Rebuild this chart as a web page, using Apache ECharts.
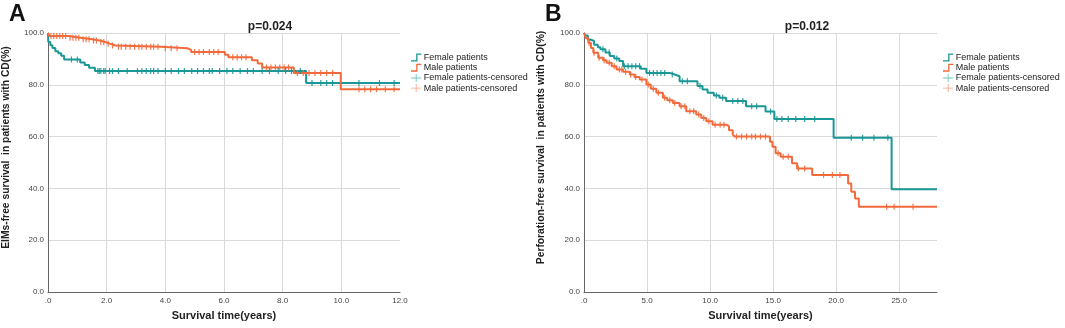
<!DOCTYPE html>
<html><head><meta charset="utf-8">
<script src="https://cdn.jsdelivr.net/npm/echarts@6/dist/echarts.min.js"></script>
<style>html,body{margin:0;padding:0;background:#fff}#c{width:1065px;height:328px}</style>
</head><body><div id="c"></div>
<script>
// ---------- DATA ----------
const seriesNames = ["Female patients", "Male patients", "Female patients-censored", "Male patients-censored"];
const pValues = ["p=0.024", "p=0.012"];
const panelLetters = ["A", "B"];
const yAxisTitles = ["EIMs-free survival  in patients with CD(%)", "Perforation-free survival  in patients with CD(%)"];
const xAxisTitle = "Survival time(years)";
const yTicks = [0, 20, 40, 60, 80, 100];
const xTicksA = [0, 2, 4, 6, 8, 10, 12];
const xTicksB = [0, 5, 10, 15, 20, 25];

// Panel A: EIMs-free survival, [time, survival%] after each step
const femaleA = [[0,100],[0.01,96.5],[0.08,95.3],[0.15,94.2],[0.25,93],[0.35,92.2],[0.45,91.2],[0.55,89.8],[1.1,88.6],[1.25,87.6],[1.4,86.6],[1.6,85.3],[8.8,80.7],[12,80.7]];
const maleA = [[0,100],[0.05,98.8],[0.7,98.2],[1.1,97.6],[1.5,97.1],[1.75,96.5],[1.95,95.9],[2.1,95.2],[2.3,94.7],[3.85,94.1],[4.75,93.5],[4.88,92.7],[6.03,91.6],[6.15,90.6],[6.95,89.5],[7.15,88.2],[7.3,86.7],[8.38,84.6],[9.98,78.3],[12,78.3]];
const femaleCensA = [0.8,1.0,1.7,1.75,1.8,1.9,1.95,2.1,2.2,2.4,2.7,3.05,3.2,3.35,3.5,3.6,3.75,4.0,4.2,4.45,4.65,4.9,5.1,5.3,5.5,5.6,5.85,6.1,6.3,6.55,6.8,7.0,7.3,7.55,7.85,8.1,8.3,8.6,9.0,9.3,9.5,9.7,10.6,11.3,11.8];
const maleCensA = [0.1,0.2,0.3,0.4,0.5,0.6,0.75,0.85,0.95,1.05,1.2,1.3,1.4,1.55,1.65,1.8,1.9,2.05,2.2,2.4,2.5,2.65,2.8,2.95,3.1,3.2,3.35,3.5,3.6,3.75,4.0,4.2,4.4,5.0,5.15,5.3,5.5,5.65,5.8,6.3,6.45,6.6,6.75,7.45,7.6,7.75,7.9,8.05,8.2,8.5,8.7,8.9,9.1,9.3,9.5,9.7,10.6,10.8,11.0,11.2,11.5,11.8];

// Panel B: Perforation-free survival
const femaleB = [[0,100],[0.1,99],[0.3,97.5],[0.5,96.9],[0.8,95.5],[1.1,94.5],[1.3,93.7],[1.7,92.5],[2.05,91.1],[2.4,90.2],[2.8,89.2],[3.1,87.2],[4.5,86.2],[4.95,84.6],[6.8,84.0],[7.2,83.3],[7.58,81.4],[9.0,79.5],[9.4,78.2],[9.8,76.9],[10.3,75.9],[10.74,75.0],[11.27,73.7],[12.85,71.7],[14.4,69.7],[15.1,66.8],[19.8,59.6],[24.4,39.7],[28,39.7]];
const maleB = [[0,100],[0.15,98],[0.34,96.2],[0.55,94.2],[0.74,92.4],[1.13,90.4],[1.5,89.5],[1.79,88.5],[2.2,87.2],[2.58,85.9],[3.1,85],[3.63,84],[4.0,83],[4.42,82.0],[4.95,80.1],[5.3,78.5],[5.74,76.9],[6.26,75],[6.6,74],[7.05,73],[7.58,71.7],[8.11,69.8],[8.9,68.5],[9.3,67.2],[9.7,65.9],[10.2,64.6],[11.27,64],[11.5,62.5],[11.8,60.8],[11.95,60],[14.75,58],[14.95,56.1],[15.2,53.6],[15.6,52.2],[16.5,49.7],[16.9,47.7],[18.1,45.2],[20.95,41.9],[21.2,38.7],[21.5,36.1],[21.8,32.9],[28,32.9]];
const femaleCensB = [1.5,2.0,2.6,3.2,3.5,3.8,4.1,4.4,5.2,5.5,5.8,6.1,6.4,7.0,7.8,8.2,9.2,10.5,11.0,11.8,12.2,12.6,13.3,13.7,14.8,15.3,15.7,16.2,16.8,17.5,18.3,21.2,22.1,23.0,24.1];
const maleCensB = [0.4,0.8,1.2,1.6,2.0,2.4,2.8,3.0,3.3,3.7,4.1,4.6,5.1,5.5,5.9,6.4,6.8,7.2,7.7,8.0,8.4,8.7,9.1,9.5,9.9,10.4,10.8,11.1,12.1,12.5,12.9,13.3,13.6,14.0,14.4,15.4,15.8,16.2,17.0,17.5,19.0,19.7,20.3,24.0,24.6,26.1];

// ---------- CHART ----------
const TEAL = '#1a9797', ORANGE = '#f26a3b', TEAL_L = '#5cbcbc', ORANGE_L = '#f79a78';
function survAt(steps, t){ let s = steps[0][1]; for (const p of steps){ if (p[0] <= t) s = p[1]; else break; } return s; }
const cens = (steps, times) => times.map(t => [t, survAt(steps, t)]);
const fmtX = v => v === 0 ? '.0' : v.toFixed(1);
const fmtY = v => v.toFixed(1);
const FONT = 'Liberation Sans';
const stepIcon = 'path://M0,9 L7,9 L7,0 L14,0 L14,1.8 L8.8,1.8 L8.8,10.8 L0,10.8 Z';
const plusIcon = 'path://M0,5 L6.4,5 L6.4,0 L7.6,0 L7.6,5 L14,5 L14,6.2 L7.6,6.2 L7.6,11 L6.4,11 L6.4,6.2 L0,6.2 Z';

const grids = [{left:47, top:33, width:353, height:259}, {left:584, top:33, width:353, height:259}];
function xAxis(i, max, interval){
  return {type:'value', gridIndex:i, min:0, max:max, interval:interval,
    axisLine:{show:true, lineStyle:{color:'#666', width:1}}, axisTick:{show:false},
    axisLabel:{formatter:fmtX, fontSize:8, color:'#444', fontFamily:FONT, margin:5, showMaxLabel: i===0},
    splitLine:{show:true, showMaxLine:false, lineStyle:{color:'#d9d9d9', width:1}},
    name:xAxisTitle, nameLocation:'middle', nameGap:18,
    nameTextStyle:{fontSize:11, fontWeight:'bold', color:'#222', fontFamily:FONT}};
}
function yAxis(i){
  return {type:'value', gridIndex:i, min:0, max:100, interval:20,
    axisLine:{show:true, lineStyle:{color:'#666', width:1}}, axisTick:{show:false},
    axisLabel:{formatter:fmtY, fontSize:8, color:'#444', fontFamily:FONT, margin:4},
    splitLine:{show:true, showMinLine:false, lineStyle:{color:'#d9d9d9', width:1}},
    name:yAxisTitles[i], nameLocation:'middle', nameGap: i===0 ? 37 : 38,
    nameTextStyle:{fontSize:10.3, fontWeight:'bold', color:'#222', fontFamily:FONT, padding:[0,0,0,30]}};
}
function lineS(name, data, color, i){
  return {name, type:'line', step:'end', xAxisIndex:i, yAxisIndex:i, data, showSymbol:false,
    lineStyle:{color, width:2}, itemStyle:{color}, z:2, silent:true};
}
function censS(name, data, color, i){
  return {name, type:'scatter', xAxisIndex:i, yAxisIndex:i, data, symbol:'rect', symbolSize:[1.2,6],
    itemStyle:{color, opacity:0.9}, z:3, silent:true};
}
function legend(left){
  return {orient:'vertical', left, top:48, itemWidth:13, itemHeight:8, itemGap:1.2, selectedMode:false,
    textStyle:{fontSize:9, color:'#222', fontFamily:FONT, padding:[0,0,0,-4]},
    data:[{name:seriesNames[0], icon:stepIcon, itemStyle:{color:TEAL}},
          {name:seriesNames[1], icon:stepIcon, itemStyle:{color:ORANGE}},
          {name:seriesNames[2], icon:plusIcon, itemStyle:{color:TEAL_L}},
          {name:seriesNames[3], icon:plusIcon, itemStyle:{color:ORANGE_L}}]};
}
const chart = echarts.init(document.getElementById('c'), null, {renderer:'canvas'});
chart.setOption({
  animation:false, backgroundColor:'#fff',
  grid: grids,
  xAxis:[xAxis(0, 12, 2), xAxis(1, 28, 5)],
  yAxis:[yAxis(0), yAxis(1)],
  legend:[legend(406), legend(938)],
  title:[
    {text:pValues[0], left:265, top:16, textAlign:'center', textStyle:{fontSize:12, fontWeight:'bold', color:'#222', fontFamily:FONT}},
    {text:pValues[1], left:802, top:16, textAlign:'center', textStyle:{fontSize:12, fontWeight:'bold', color:'#222', fontFamily:FONT}},
    {text:panelLetters[0], left:4, top:-2, textStyle:{fontSize:23, fontWeight:'bold', color:'#111', fontFamily:FONT}},
    {text:panelLetters[1], left:540, top:-2, textStyle:{fontSize:23, fontWeight:'bold', color:'#111', fontFamily:FONT}}
  ],
  series:[
    lineS(seriesNames[0], femaleA, TEAL, 0),
    lineS(seriesNames[1], maleA, ORANGE, 0),
    censS(seriesNames[2], cens(femaleA, femaleCensA), TEAL, 0),
    censS(seriesNames[3], cens(maleA, maleCensA), ORANGE, 0),
    lineS(seriesNames[0], femaleB, TEAL, 1),
    lineS(seriesNames[1], maleB, ORANGE, 1),
    censS(seriesNames[2], cens(femaleB, femaleCensB), TEAL, 1),
    censS(seriesNames[3], cens(maleB, maleCensB), ORANGE, 1)
  ]
});
</script></body></html>
